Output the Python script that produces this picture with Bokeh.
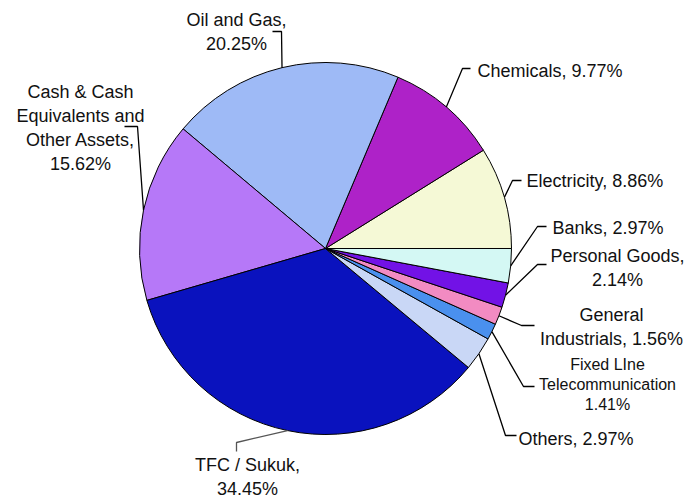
import numpy as np
from bokeh.plotting import figure
from bokeh.models import Range1d, ColumnDataSource
from bokeh.core.properties import value
from bokeh.embed import file_html
from bokeh.resources import INLINE

# ---- data ----
categories = ["Electricity", "Chemicals", "Oil and Gas",
              "Cash & Cash\nEquivalents and\nOther Assets", "TFC / Sukuk",
              "Others", "Fixed LIne\nTelecommunication", "General\nIndustrials",
              "Personal Goods", "Banks"]
shares = [8.86, 9.77, 20.25, 15.62, 34.45, 2.97, 1.41, 1.56, 2.14, 2.97]
separators = [", ", ", ", ",\n", ",\n", ",\n", ", ", "\n", ", ", ",\n", ", "]
colors = ["#F5F9D6", "#AE22C8", "#9EBAF6", "#B678F8", "#0A12BE",
          "#C9D7F6", "#4A90EE", "#F28BC2", "#7212E6", "#D4F8F4"]

# ---- layout (image pixel coordinates) ----
W, H = 688, 502
def Y(img_y):
    return H - img_y

cx, cy, R = 325, Y(248), 186

label_pos = [(526, 180), (477, 70), (236, 31), (80, 127), (247, 476),
             (518, 438), (607, 384), (611, 326), (617, 267), (552, 227)]
label_align = ["left", "left", "center", "center", "center",
               "left", "center", "center", "center", "left"]
label_size = ["18px"] * 6 + ["16px"] + ["18px"] * 3
elbows = [(512, 180), (462, 68), (281, 31), (137, 126), (236, 442),
          (505, 435), (523, 386), (521, 325), (537, 264), (537, 226)]
ends = [(521, 180), (470, 68), (272, 31), (124, 126), (236, 451),
        (516, 435), (534, 386), (534, 325), (546, 264), (546, 226)]
leader_colors = ["black"] * 4 + ["#555555"] + ["black"] * 5

frac = np.array(shares) / sum(shares)
ends_ang = np.cumsum(frac) * 2 * np.pi
starts_ang = ends_ang - frac * 2 * np.pi
mids = (starts_ang + ends_ang) / 2

p = figure(width=W, height=H, output_backend="svg", toolbar_location=None,
           x_range=Range1d(0, W), y_range=Range1d(0, H),
           min_border=0)
p.axis.visible = False
p.grid.visible = False
p.outline_line_color = None
p.background_fill_color = "white"
p.border_fill_color = "white"

wsrc = ColumnDataSource(dict(start=starts_ang, end=ends_ang, color=colors))
p.wedge(x=cx, y=cy, radius=R, start_angle="start", end_angle="end",
        fill_color="color", line_color="black", line_width=1,
        direction="anticlock", source=wsrc)

xs, ys = [], []
for m, e, f in zip(mids, elbows, ends):
    sx = cx + R * np.cos(m)
    sy = cy + R * np.sin(m)
    xs.append([sx, e[0], f[0]])
    ys.append([sy, Y(e[1]), Y(f[1])])
p.multi_line(xs=xs, ys=ys, line_color=leader_colors, line_width=1.3)

texts = [c + s + f"{v:.2f}%" for c, s, v in zip(categories, separators, shares)]
tsrc = ColumnDataSource(dict(
    x=[lp[0] for lp in label_pos], y=[Y(lp[1]) for lp in label_pos],
    text=texts, align=label_align, size=label_size))
p.text(x="x", y="y", text="text", text_align="align", text_baseline="middle",
       text_font=value("Liberation Sans"), text_font_size="size",
       text_color="#111111", text_line_height=1.2, source=tsrc)

open("out.html", "w").write(file_html(p, INLINE))
